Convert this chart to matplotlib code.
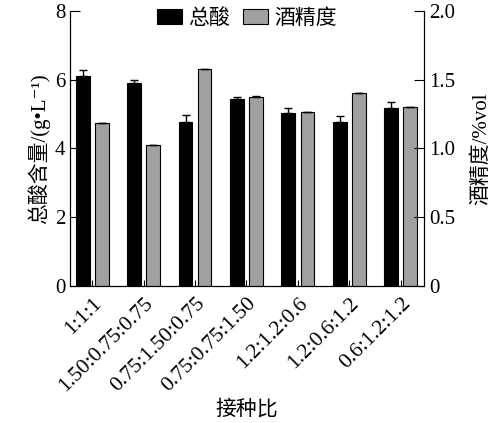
import numpy as np
import matplotlib.pyplot as plt

plt.rcParams['font.family'] = ['Liberation Serif', 'Noto Sans CJK SC', 'DejaVu Serif']

ratios = ['1:1:1', '1.50:0.75:0.75', '0.75:1.50:0.75', '0.75:0.75:1.50',
          '1.2:1.2:0.6', '1.2:0.6:1.2', '0.6:1.2:1.2']
acid = [6.12, 5.90, 4.78, 5.44, 5.02, 4.78, 5.17]
acid_err = [0.15, 0.10, 0.20, 0.05, 0.15, 0.17, 0.17]
alcohol = [1.185, 1.025, 1.578, 1.378, 1.265, 1.402, 1.30]
alcohol_err = [0.003, 0.003, 0.003, 0.003, 0.003, 0.003, 0.003]

fig = plt.figure(figsize=(5, 4.23), dpi=100)
ax = fig.add_axes([0.14, 0.324, 0.708, 0.65])
ax2 = ax.twinx()

x = np.arange(len(ratios))
w = 0.27
b1 = ax.bar(x - 0.185, acid, w, color='black', edgecolor='black', lw=0.8,
            yerr=[np.zeros(len(x)), acid_err], capsize=3,
            error_kw=dict(elinewidth=1, capthick=1), label='总酸')
b2 = ax2.bar(x + 0.185, alcohol, w, color='#a0a0a0', edgecolor='black', lw=0.8,
             yerr=[np.zeros(len(x)), alcohol_err], capsize=3,
             error_kw=dict(elinewidth=1, capthick=1), label='酒精度')

ax.set_xlim(-0.43, 6.45)
ax.set_ylim(0, 8)
ax.set_yticks([0, 2, 4, 6, 8])
ax2.set_ylim(0, 2)
ax2.set_yticks([0, 0.5, 1.0, 1.5, 2.0])
ax2.set_yticklabels(['0', '0.5', '1.0', '1.5', '2.0'])

ax.set_xticks(x)
ax.set_xticklabels(ratios, rotation=45, ha='right', rotation_mode='anchor', fontsize=15.5)
ax.tick_params(axis='x', direction='in', length=4, pad=6)
ax.tick_params(axis='y', direction='in', length=7, labelsize=15)
ax2.tick_params(axis='y', direction='in', length=7, labelsize=15)

for a in (ax, ax2):
    a.spines['top'].set_visible(False)

ax.set_ylabel('总酸含量/(g•L⁻¹)', fontsize=15, labelpad=3)
ax2.set_ylabel('酒精度/%vol', fontsize=15, labelpad=12)
ax.set_xlabel('接种比', fontsize=15, labelpad=3)

ax.legend([b1, b2], ['总酸', '酒精度'], loc='upper center', ncol=2, frameon=False,
          fontsize=15, handlelength=1.2, handleheight=0.7, handletextpad=0.3,
          columnspacing=0.6, bbox_to_anchor=(0.5, 1.075))

fig.savefig('out.png', dpi=100)
